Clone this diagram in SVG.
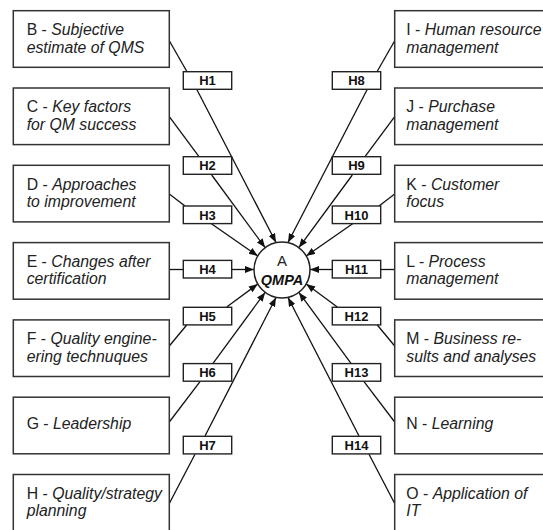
<svg xmlns="http://www.w3.org/2000/svg" width="543" height="530" viewBox="0 0 543 530">
<style>
.box{fill:#fff;stroke:#333;stroke-width:1.5}
.lbl{fill:#fff;stroke:#222;stroke-width:1.4}
.t{font-family:"Liberation Sans",Arial,sans-serif;font-size:15.8px;fill:#222}
.i{font-style:italic}
.h{font-family:"Liberation Sans",Arial,sans-serif;font-size:13px;font-weight:bold;fill:#111;text-anchor:middle}
.ln{stroke:#111;stroke-width:1.3;fill:none}
.ar{marker-end:url(#arr)}
</style>
<defs>
<marker id="arr" markerUnits="userSpaceOnUse" markerWidth="10" markerHeight="8" refX="9" refY="3.5" orient="auto">
<path d="M0,0 L9,3.5 L0,7 z" fill="#111"/>
</marker>
</defs>
<rect width="543" height="530" fill="#fff"/>
<g id="connectors">
<line class="ln" x1="169.3" y1="40.7" x2="187" y2="71.7"/>
<line class="ln ar" x1="196.7" y1="89.3" x2="276" y2="242.5"/>
<line class="ln" x1="169.3" y1="116.7" x2="199" y2="156.7"/>
<line class="ln ar" x1="211.7" y1="175" x2="265.1" y2="247.6"/>
<line class="ln" x1="169.3" y1="194" x2="185" y2="206"/>
<line class="ln ar" x1="210.7" y1="223.3" x2="257.8" y2="256"/>
<line class="ln" x1="169.3" y1="269.5" x2="183.3" y2="269.5"/>
<line class="ln ar" x1="231.7" y1="269.5" x2="254" y2="269.5"/>
<line class="ln" x1="169.3" y1="346" x2="186.7" y2="325"/>
<line class="ln ar" x1="226.7" y1="307" x2="257.8" y2="284"/>
<line class="ln" x1="169.3" y1="422" x2="200" y2="381.7"/>
<line class="ln ar" x1="213" y1="363.3" x2="265.1" y2="292.4"/>
<line class="ln" x1="169.3" y1="503.5" x2="195" y2="454.3"/>
<line class="ln ar" x1="205" y1="436" x2="276" y2="297.5"/>
<line class="ln" x1="394.7" y1="40.7" x2="377" y2="71.7"/>
<line class="ln ar" x1="367.3" y1="89.3" x2="288" y2="242.5"/>
<line class="ln" x1="394.7" y1="116.7" x2="365" y2="156.7"/>
<line class="ln ar" x1="352.3" y1="175" x2="298.9" y2="247.6"/>
<line class="ln" x1="394.7" y1="194" x2="379" y2="206"/>
<line class="ln ar" x1="353.3" y1="223.3" x2="306.2" y2="256"/>
<line class="ln" x1="394.7" y1="269.5" x2="380.7" y2="269.5"/>
<line class="ln ar" x1="332.3" y1="269.5" x2="310" y2="269.5"/>
<line class="ln" x1="394.7" y1="346" x2="377.3" y2="325"/>
<line class="ln ar" x1="337.3" y1="307" x2="306.2" y2="284"/>
<line class="ln" x1="394.7" y1="422" x2="364" y2="381.7"/>
<line class="ln ar" x1="351" y1="363.3" x2="298.9" y2="292.4"/>
<line class="ln" x1="394.7" y1="503.5" x2="369" y2="454.3"/>
<line class="ln ar" x1="359" y1="436" x2="288" y2="297.5"/>
</g>
<g id="labels">
<g id="H1"><rect class="lbl" x="183.3" y="71.7" width="48.4" height="17.6"/><text class="h" x="207.5" y="85.2">H1</text></g>
<g id="H2"><rect class="lbl" x="183.3" y="156.7" width="48.4" height="17.6"/><text class="h" x="207.5" y="170.2">H2</text></g>
<g id="H3"><rect class="lbl" x="183.3" y="206" width="48.4" height="17.6"/><text class="h" x="207.5" y="219.5">H3</text></g>
<g id="H4"><rect class="lbl" x="183.3" y="260.4" width="48.4" height="17.6"/><text class="h" x="207.5" y="273.9">H4</text></g>
<g id="H5"><rect class="lbl" x="183.3" y="307.3" width="48.4" height="17.6"/><text class="h" x="207.5" y="320.8">H5</text></g>
<g id="H6"><rect class="lbl" x="183.3" y="363.6" width="48.4" height="17.6"/><text class="h" x="207.5" y="377.1">H6</text></g>
<g id="H7"><rect class="lbl" x="183.3" y="436.3" width="48.4" height="17.6"/><text class="h" x="207.5" y="449.8">H7</text></g>
<g id="H8"><rect class="lbl" x="332.3" y="71.7" width="48.4" height="17.6"/><text class="h" x="356.5" y="85.2">H8</text></g>
<g id="H9"><rect class="lbl" x="332.3" y="156.7" width="48.4" height="17.6"/><text class="h" x="356.5" y="170.2">H9</text></g>
<g id="H10"><rect class="lbl" x="332.3" y="206" width="48.4" height="17.6"/><text class="h" x="356.5" y="219.5">H10</text></g>
<g id="H11"><rect class="lbl" x="332.3" y="260.4" width="48.4" height="17.6"/><text class="h" x="356.5" y="273.9">H11</text></g>
<g id="H12"><rect class="lbl" x="332.3" y="307.3" width="48.4" height="17.6"/><text class="h" x="356.5" y="320.8">H12</text></g>
<g id="H13"><rect class="lbl" x="332.3" y="363.6" width="48.4" height="17.6"/><text class="h" x="356.5" y="377.1">H13</text></g>
<g id="H14"><rect class="lbl" x="332.3" y="436.3" width="48.4" height="17.6"/><text class="h" x="356.5" y="449.8">H14</text></g>
</g>
<g id="A">
<circle cx="282" cy="270" r="28" fill="#fff" stroke="#222" stroke-width="1.5"/>
<text class="t" x="282" y="266" text-anchor="middle" style="font-size:15px">A</text>
<text x="282" y="284.5" text-anchor="middle" style="font-family:'Liberation Sans',Arial,sans-serif;font-size:14.5px;font-weight:bold;font-style:italic;fill:#111">QMPA</text>
</g>
<g id="B"><rect class="box" x="13.3" y="10.7" width="156" height="56.6"/><text class="t" x="26.7" y="35.3">B - <tspan class="i">Subjective</tspan></text><text class="t i" x="26.7" y="52.8">estimate of QMS</text></g>
<g id="C"><rect class="box" x="13.3" y="88" width="156" height="56.6"/><text class="t" x="26.7" y="112.3">C - <tspan class="i">Key factors</tspan></text><text class="t i" x="26.7" y="129.8">for QM success</text></g>
<g id="D"><rect class="box" x="13.3" y="165.3" width="156" height="56.6"/><text class="t" x="26.7" y="189.6">D - <tspan class="i">Approaches</tspan></text><text class="t i" x="26.7" y="207.1">to improvement</text></g>
<g id="E"><rect class="box" x="13.3" y="242.6" width="156" height="56.6"/><text class="t" x="26.7" y="266.9">E - <tspan class="i">Changes after</tspan></text><text class="t i" x="26.7" y="284.4">certification</text></g>
<g id="F"><rect class="box" x="13.3" y="319.9" width="156" height="56.6"/><text class="t" x="26.7" y="344.2">F - <tspan class="i">Quality engine-</tspan></text><text class="t i" x="26.7" y="361.7">ering technuques</text></g>
<g id="G"><rect class="box" x="13.3" y="397.2" width="156" height="56.6"/><text class="t" x="26.7" y="428.6">G - <tspan class="i">Leadership</tspan></text></g>
<g id="H"><rect class="box" x="13.3" y="474.5" width="156" height="60"/><text class="t" x="26.7" y="498.8">H - <tspan class="i">Quality/strategy</tspan></text><text class="t i" x="26.7" y="516.3">planning</text></g>
<g id="I"><rect class="box" x="394.7" y="10.7" width="160" height="56.6"/><text class="t" x="406.3" y="35.3">I - <tspan class="i">Human resource</tspan></text><text class="t i" x="406.3" y="52.8">management</text></g>
<g id="J"><rect class="box" x="394.7" y="88" width="160" height="56.6"/><text class="t" x="406.3" y="112.3">J - <tspan class="i">Purchase</tspan></text><text class="t i" x="406.3" y="129.8">management</text></g>
<g id="K"><rect class="box" x="394.7" y="165.3" width="160" height="56.6"/><text class="t" x="406.3" y="189.6">K - <tspan class="i">Customer</tspan></text><text class="t i" x="406.3" y="207.1">focus</text></g>
<g id="L"><rect class="box" x="394.7" y="242.6" width="160" height="56.6"/><text class="t" x="406.3" y="266.9">L - <tspan class="i">Process</tspan></text><text class="t i" x="406.3" y="284.4">management</text></g>
<g id="M"><rect class="box" x="394.7" y="319.9" width="160" height="56.6"/><text class="t" x="406.3" y="344.2">M - <tspan class="i">Business re-</tspan></text><text class="t i" x="406.3" y="361.7">sults and analyses</text></g>
<g id="N"><rect class="box" x="394.7" y="397.2" width="160" height="56.6"/><text class="t" x="406.3" y="428.6">N - <tspan class="i">Learning</tspan></text></g>
<g id="O"><rect class="box" x="394.7" y="474.5" width="160" height="60"/><text class="t" x="406.3" y="498.8">O - <tspan class="i">Application of</tspan></text><text class="t i" x="406.3" y="516.3">IT</text></g>
</svg>
